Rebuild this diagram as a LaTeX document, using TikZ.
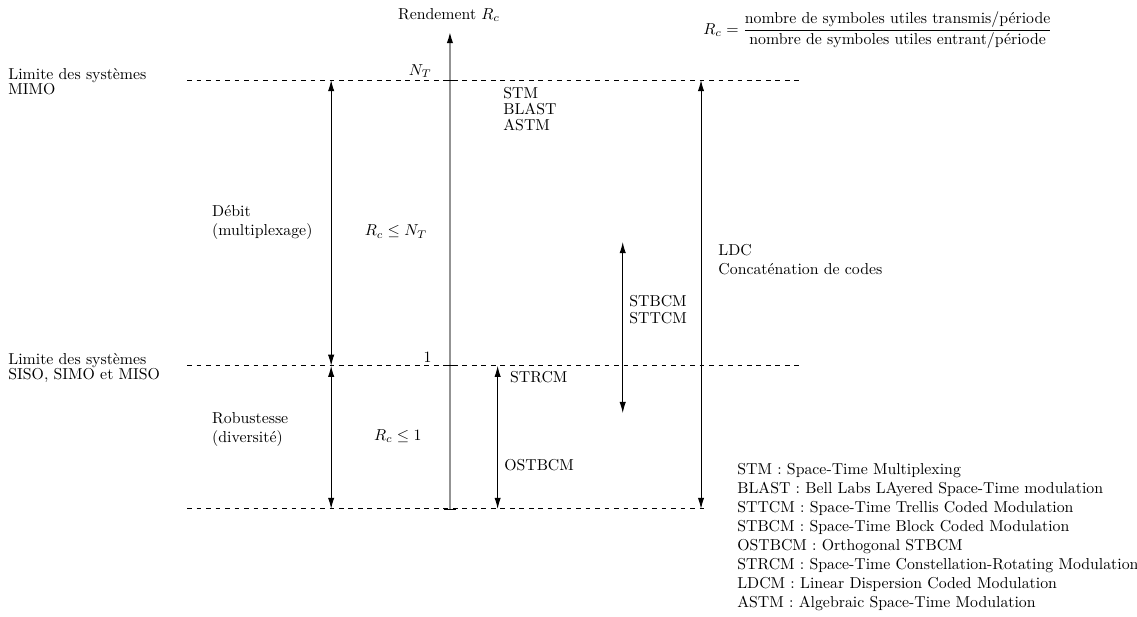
\documentclass[tikz,border=0pt]{standalone}
\usepackage{amsmath}
\usepackage{tikz}
\usetikzlibrary{arrows.meta}

\tikzset{
  limite/.style={dashed, line width=0.5pt},
  fleche/.style={{Latex[length=7pt,width=4pt]}-{Latex[length=7pt,width=4pt]}, line width=0.6pt},
  texte/.style={anchor=north west, align=left, inner sep=0pt},
}

\begin{document}
\begin{tikzpicture}
    \useasboundingbox (0,0) rectangle (25.27,13.71);
    % niveaux de rendement
    \coordinate (nt-g) at (4.16,11.93);
    \coordinate (nt-d) at (17.84,11.93);
    \coordinate (un-g) at (4.16,5.58);
    \coordinate (un-d) at (17.84,5.58);
    \coordinate (zero-g) at (4.16,2.4);
    \coordinate (zero-d) at (15.71,2.4);
    \draw[limite] (nt-g) -- (nt-d);
    \draw[limite] (un-g) -- (un-d);
    \draw[limite] (zero-g) -- (zero-d);
    % axe
    \coordinate (axe-bas) at (10,2.4);
    \coordinate (axe-haut) at (10,13.0);
    \draw[gray!85, line width=1pt, -{Latex[length=7pt,width=4pt,color=black]}] (axe-bas) -- (axe-haut);
    \foreach \y in {nt-g, un-g, zero-g}
        \draw (axe-bas |- \y) ++(-0.13,0) -- ++(0.26,0);
    \node (rendement) at (9.98,13.38) {Rendement $R_c$};
    \node[anchor=base east, inner sep=0pt] (nt) at (9.6,12.04) {$N_T$};
    \node[anchor=base east, inner sep=0pt] (un) at (9.6,5.65) {$1$};
    \node (formule) at (19.51,13.04)
        {$R_c=\dfrac{\text{nombre de symboles utiles transmis/période}}{\text{nombre de symboles utiles entrant/période}}$};
    % plages
    \coordinate (debit) at (7.36,0);
    \draw[fleche] (debit |- nt-g) -- (debit |- un-g);
    \draw[fleche] (debit |- un-g) -- (debit |- zero-g);
    \coordinate (strcm) at (11.06,0);
    \draw[fleche] (strcm |- un-g) -- (strcm |- zero-g);
    \coordinate (stbcm-h) at (13.84,8.33);
    \coordinate (stbcm-b) at (13.84,4.53);
    \draw[fleche] (stbcm-h) -- (stbcm-b);
    \coordinate (ldc) at (15.58,0);
    \draw[fleche] (ldc |- nt-g) -- (ldc |- zero-g);
    % textes
    \node[texte] (lim-mimo) at (0.18,12.19) {Limite des systèmes\\[-2.5pt]MIMO};
    \node[texte] (lim-siso) at (0.18,5.86) {Limite des systèmes\\[-2.5pt]SISO, SIMO et MISO};
    \node[texte] (txt-debit) at (4.71,9.14) {Débit\\(multiplexage)};
    \node[texte] (txt-robust) at (4.71,4.54) {Robustesse\\(diversité)};
    \node (rc-nt) at (8.8,8.56) {$R_c \leq N_T$};
    \node (rc-un) at (8.84,4.02) {$R_c \leq 1$};
    \node[texte] (txt-stm) at (11.18,11.77) {STM\\[-1.9pt]BLAST\\[-1.9pt]ASTM};
    \node[texte] (txt-strcm) at (11.33,5.46) {STRCM};
    \node[texte] (txt-ostbcm) at (11.2,3.51) {OSTBCM};
    \node[texte] (txt-stbcm) at (13.98,7.16) {STBCM\\[-1.2pt]STTCM};
    \node[texte] (txt-ldc) at (15.96,8.29) {LDC\\Concaténation de codes};
    \node[texte] (legende) at (16.38,3.42) {STM : Space-Time Multiplexing\\
        BLAST : Bell Labs LAyered Space-Time modulation\\
        STTCM : Space-Time Trellis Coded Modulation\\
        STBCM : Space-Time Block Coded Modulation\\
        OSTBCM : Orthogonal STBCM\\
        STRCM : Space-Time Constellation-Rotating Modulation\\
        LDCM : Linear Dispersion Coded Modulation\\
        ASTM : Algebraic Space-Time Modulation};
\end{tikzpicture}
\end{document}
